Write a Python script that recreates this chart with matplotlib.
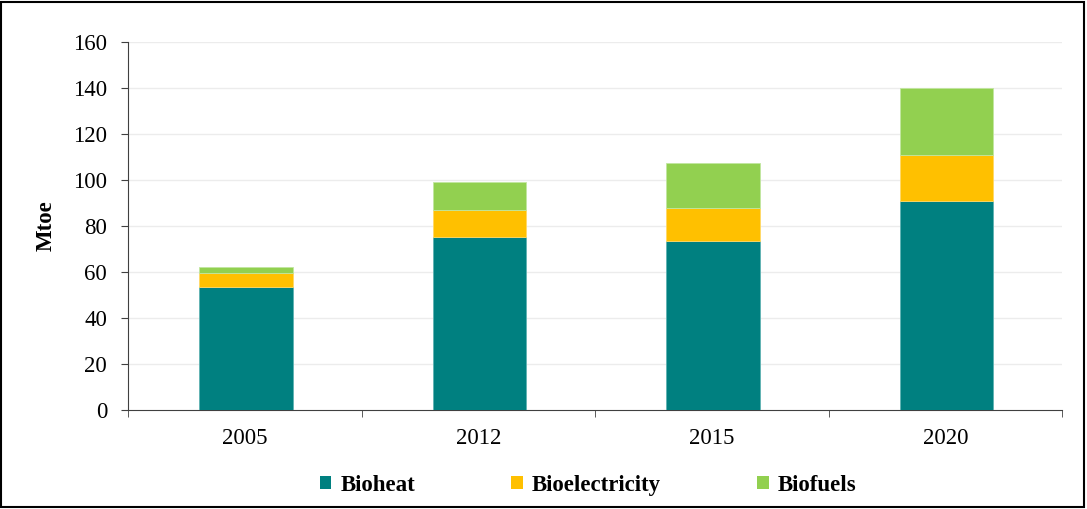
import matplotlib
matplotlib.use("Agg")
import matplotlib.pyplot as plt
from matplotlib.patches import Rectangle, Patch
import numpy as np

years = ["2005", "2012", "2015", "2020"]
bioheat = [53.3, 75.1, 73.3, 90.7]
bioelectricity = [6.1, 11.7, 14.5, 20.0]
biofuels = [2.6, 12.2, 19.5, 29.3]
series_names = ["Bioheat", "Bioelectricity", "Biofuels"]
colors = ["#008080", "#FFC000", "#92D050"]
edge_colors = ["#5fb3b3", "#ffd966", "#c2e6a0"]
yticks = [0, 20, 40, 60, 80, 100, 120, 140, 160]

plt.rcParams['font.family'] = ['Liberation Serif', 'DejaVu Serif']

fig = plt.figure(figsize=(10.87, 5.09), dpi=100)
ax = fig.add_axes([128/1087, 99/509, (1062-128)/1087, (410-42)/509])

x = np.arange(len(years))
bottom = np.zeros(len(years))
for vals, c, ec in zip([bioheat, bioelectricity, biofuels], colors, edge_colors):
    ax.bar(x + 0.005, vals, width=0.4, bottom=bottom, color=c, edgecolor=ec, linewidth=0.6, zorder=3)
    bottom += np.array(vals)

ax.set_xlim(-0.5, len(years) - 0.5)
ax.set_ylim(0, 160)
ax.set_yticks(yticks)
ax.set_yticklabels([str(v) for v in yticks], fontsize=16.5)
ax.set_xticks(x)
ax.set_xticklabels(years, fontsize=16.5)
ax.set_xticks(np.arange(-0.5, len(years)), minor=True)
ax.tick_params(axis='x', which='major', length=0, pad=13)
ax.tick_params(axis='x', which='minor', length=5, direction='out', color='#404040')
ax.tick_params(axis='y', length=5, direction='out', color='#404040', pad=10)
for y in yticks[1:]:
    ax.axhline(y, color='#ececec', linewidth=1, zorder=0)
ax.spines['top'].set_visible(False)
ax.spines['right'].set_visible(False)
ax.spines['left'].set_color('#404040')
ax.spines['bottom'].set_color('#404040')
ax.set_ylabel("Mtoe", fontsize=16.5, fontweight='bold', labelpad=12)

handles = [Patch(facecolor=c, edgecolor='none') for c in colors]
fig.legend(handles, series_names, loc='center', bbox_to_anchor=(0.541, 0.047), ncol=3,
           frameon=False, prop={'size': 16.5, 'weight': 'bold'},
           handlelength=0.5, handleheight=0.5, handletextpad=0.4, columnspacing=4.2)

fig.patches.append(Rectangle((1/1087, 2/509), 1083/1087, 505/509, transform=fig.transFigure,
                             fill=False, edgecolor='black', linewidth=1.5))

fig.savefig("out.png", dpi=100)
